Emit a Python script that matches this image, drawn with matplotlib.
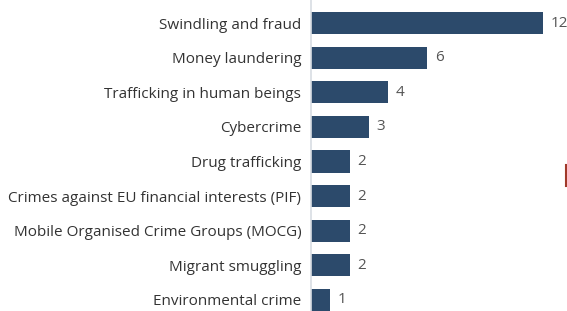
import matplotlib.pyplot as plt
from matplotlib.lines import Line2D

categories = [
    'Swindling and fraud',
    'Money laundering',
    'Trafficking in human beings',
    'Cybercrime',
    'Drug trafficking',
    'Crimes against EU financial interests (PIF)',
    'Mobile Organised Crime Groups (MOCG)',
    'Migrant smuggling',
    'Environmental crime',
]
values = [12, 6, 4, 3, 2, 2, 2, 2, 1]

plt.rcParams['font.family'] = ['Open Sans', 'DejaVu Sans']

fig = plt.figure(figsize=(5.67, 3.11), dpi=100)
ax = fig.add_axes([311 / 567, 0.0, 1 - 311 / 567, 1.0])

y = list(range(len(categories)))
ax.barh(y, values, height=0.64, color='#2c4a6b')
ax.set_ylim(8.32, -0.665)
ax.set_xlim(0, 12 * 256 / 232)

for i, v in enumerate(values):
    ax.text(v + 0.4, i, str(v), va='center', ha='left', fontsize=11, color='#555555')

ax.set_yticks(y)
ax.set_yticklabels(categories, fontsize=11, color='#333333')
ax.tick_params(axis='y', length=0, pad=7)
ax.set_xticks([])
for s in ['top', 'right', 'bottom']:
    ax.spines[s].set_visible(False)
ax.spines['left'].set_color('#d8dde3')
ax.spines['left'].set_linewidth(1.2)

# small red mark at the right edge of the original image
fig.add_artist(Line2D([565.5 / 567, 565.5 / 567], [1 - 165 / 311, 1 - 186 / 311],
                      color='#a0392a', linewidth=1.5))

fig.savefig('out.png', dpi=100)
